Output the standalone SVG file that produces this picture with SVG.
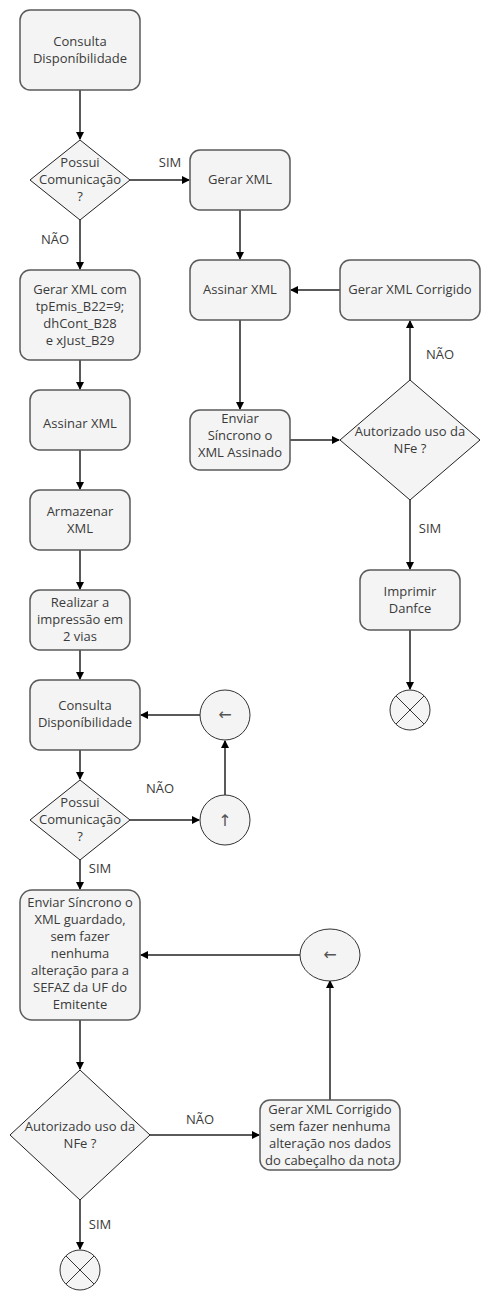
<svg xmlns="http://www.w3.org/2000/svg" width="490" height="1304" viewBox="0 0 490 1304">
<style>
.box{fill:#f4f4f4;stroke:#5a5a5a;stroke-width:1.5}
.dia{fill:#f4f4f4;stroke:#222;stroke-width:1}
.circ{fill:#f4f4f4;stroke:#333;stroke-width:1}
.t{font-family:"Open Sans","Liberation Sans",sans-serif;font-size:13px;fill:#3a3a3a;text-anchor:middle}
.ar{font-family:"DejaVu Sans","Liberation Sans",sans-serif;font-size:16px;fill:#555;text-anchor:middle}
.lbl{font-family:"Open Sans","Liberation Sans",sans-serif;font-size:13px;fill:#3a3a3a;text-anchor:middle}
.c{fill:none;stroke:#5a5a5a;stroke-width:2}
</style>
<defs>
<marker id="arr" markerWidth="8" markerHeight="8" refX="7" refY="4" orient="auto" markerUnits="userSpaceOnUse"><path d="M0,0 L8,4 L0,8 Z" fill="#000"/></marker>
</defs>
<g id="connectors">
<path class="c" d="M80,90 V139" marker-end="url(#arr)"/>
<path class="c" d="M130,180 H189" marker-end="url(#arr)"/>
<path class="c" d="M80,220 V269" marker-end="url(#arr)"/>
<path class="c" d="M240,210 V259" marker-end="url(#arr)"/>
<path class="c" d="M340,290 H291" marker-end="url(#arr)"/>
<path class="c" d="M240,320 V409" marker-end="url(#arr)"/>
<path class="c" d="M290,440 H339" marker-end="url(#arr)"/>
<path class="c" d="M410,380 V321" marker-end="url(#arr)"/>
<path class="c" d="M410,500 V569" marker-end="url(#arr)"/>
<path class="c" d="M410,630 V689" marker-end="url(#arr)"/>
<path class="c" d="M80,360 V389" marker-end="url(#arr)"/>
<path class="c" d="M80,450 V489" marker-end="url(#arr)"/>
<path class="c" d="M80,550 V589" marker-end="url(#arr)"/>
<path class="c" d="M80,650 V679" marker-end="url(#arr)"/>
<path class="c" d="M80,750 V779" marker-end="url(#arr)"/>
<path class="c" d="M130,820 H199" marker-end="url(#arr)"/>
<path class="c" d="M225,795 V741" marker-end="url(#arr)"/>
<path class="c" d="M200,715 H141" marker-end="url(#arr)"/>
<path class="c" d="M80,860 V889" marker-end="url(#arr)"/>
<path class="c" d="M300,955 H141" marker-end="url(#arr)"/>
<path class="c" d="M80,1020 V1069" marker-end="url(#arr)"/>
<path class="c" d="M150,1135 H259" marker-end="url(#arr)"/>
<path class="c" d="M330,1100 V981" marker-end="url(#arr)"/>
<path class="c" d="M80,1200 V1249" marker-end="url(#arr)"/>
<text class="lbl" x="170" y="167">SIM</text>
<text class="lbl" x="55" y="244">NÃO</text>
<text class="lbl" x="440" y="359">NÃO</text>
<text class="lbl" x="430" y="533">SIM</text>
<text class="lbl" x="160" y="793">NÃO</text>
<text class="lbl" x="100" y="873">SIM</text>
<text class="lbl" x="200" y="1124">NÃO</text>
<text class="lbl" x="100" y="1229">SIM</text>
</g>
<g id="n1"><rect class="box" x="20" y="10" width="120" height="80" rx="10"/><text class="t" x="80" y="46">Consulta</text><text class="t" x="80" y="63">Disponíbilidade</text></g>
<g id="d1"><path class="dia" d="M80,140 L130,180 L80,220 L30,180 Z"/><text class="t" x="80" y="167">Possui</text><text class="t" x="80" y="184">Comunicação</text><text class="t" x="80" y="201">?</text></g>
<g id="n2"><rect class="box" x="190" y="150" width="100" height="60" rx="10"/><text class="t" x="240" y="184">Gerar XML</text></g>
<g id="n3"><rect class="box" x="190" y="260" width="100" height="60" rx="10"/><text class="t" x="240" y="294">Assinar XML</text></g>
<g id="n4"><rect class="box" x="340" y="260" width="140" height="60" rx="10"/><text class="t" x="410" y="294">Gerar XML Corrigido</text></g>
<g id="n5"><rect class="box" x="190" y="410" width="100" height="60" rx="10"/><text class="t" x="240" y="423">Enviar</text><text class="t" x="240" y="440">Síncrono o</text><text class="t" x="240" y="457">XML Assinado</text></g>
<g id="d2"><path class="dia" d="M410,380 L480,440 L410,500 L340,440 Z"/><text class="t" x="410" y="436">Autorizado uso da</text><text class="t" x="410" y="453">NFe ?</text></g>
<g id="n6"><rect class="box" x="360" y="570" width="100" height="60" rx="10"/><text class="t" x="410" y="596">Imprimir</text><text class="t" x="410" y="613">Danfce</text></g>
<g id="e1"><circle class="circ" cx="410" cy="710" r="20"/><path d="M396,696 L424,724 M424,696 L396,724" stroke="#333" stroke-width="1"/></g>
<g id="n7"><rect class="box" x="20" y="270" width="120" height="90" rx="10"/><text class="t" x="80" y="294">Gerar XML com</text><text class="t" x="80" y="311">tpEmis_B22=9;</text><text class="t" x="80" y="328">dhCont_B28</text><text class="t" x="80" y="345">e xJust_B29</text></g>
<g id="n8"><rect class="box" x="30" y="390" width="100" height="60" rx="10"/><text class="t" x="80" y="428">Assinar XML</text></g>
<g id="n9"><rect class="box" x="30" y="490" width="100" height="60" rx="10"/><text class="t" x="80" y="516">Armazenar</text><text class="t" x="80" y="533">XML</text></g>
<g id="n10"><rect class="box" x="30" y="590" width="100" height="60" rx="10"/><text class="t" x="80" y="607">Realizar a</text><text class="t" x="80" y="624">impressão em</text><text class="t" x="80" y="641">2 vias</text></g>
<g id="n11"><rect class="box" x="30" y="680" width="110" height="70" rx="10"/><text class="t" x="85" y="710">Consulta</text><text class="t" x="85" y="727">Disponíbilidade</text></g>
<g id="c1"><circle class="circ" cx="225" cy="715" r="25"/><text class="ar" x="225" y="720">←</text></g>
<g id="c2"><circle class="circ" cx="225" cy="820" r="25"/><text class="ar" x="225" y="826">↑</text></g>
<g id="d3"><path class="dia" d="M80,780 L130,820 L80,860 L30,820 Z"/><text class="t" x="80" y="807">Possui</text><text class="t" x="80" y="824">Comunicação</text><text class="t" x="80" y="841">?</text></g>
<g id="n12"><rect class="box" x="20" y="890" width="120" height="130" rx="12"/><text class="t" x="80" y="907">Enviar Síncrono o</text><text class="t" x="80" y="924">XML guardado,</text><text class="t" x="80" y="941">sem fazer</text><text class="t" x="80" y="958">nenhuma</text><text class="t" x="80" y="975">alteração para a</text><text class="t" x="80" y="992">SEFAZ da UF do</text><text class="t" x="80" y="1009">Emitente</text></g>
<g id="c3"><ellipse class="circ" cx="330" cy="955" rx="30" ry="26"/><text class="ar" x="330" y="960">←</text></g>
<g id="d4"><path class="dia" d="M80,1070 L150,1135 L80,1200 L10,1135 Z"/><text class="t" x="80" y="1131">Autorizado uso da</text><text class="t" x="80" y="1148">NFe ?</text></g>
<g id="n13"><rect class="box" x="260" y="1100" width="140" height="70" rx="10"/><text class="t" x="330" y="1114">Gerar XML Corrigido</text><text class="t" x="330" y="1131">sem fazer nenhuma</text><text class="t" x="330" y="1148">alteração nos dados</text><text class="t" x="330" y="1165">do cabeçalho da nota</text></g>
<g id="e2"><circle class="circ" cx="80" cy="1270" r="20"/><path d="M66,1256 L94,1284 M94,1256 L66,1284" stroke="#333" stroke-width="1"/></g>
</svg>
